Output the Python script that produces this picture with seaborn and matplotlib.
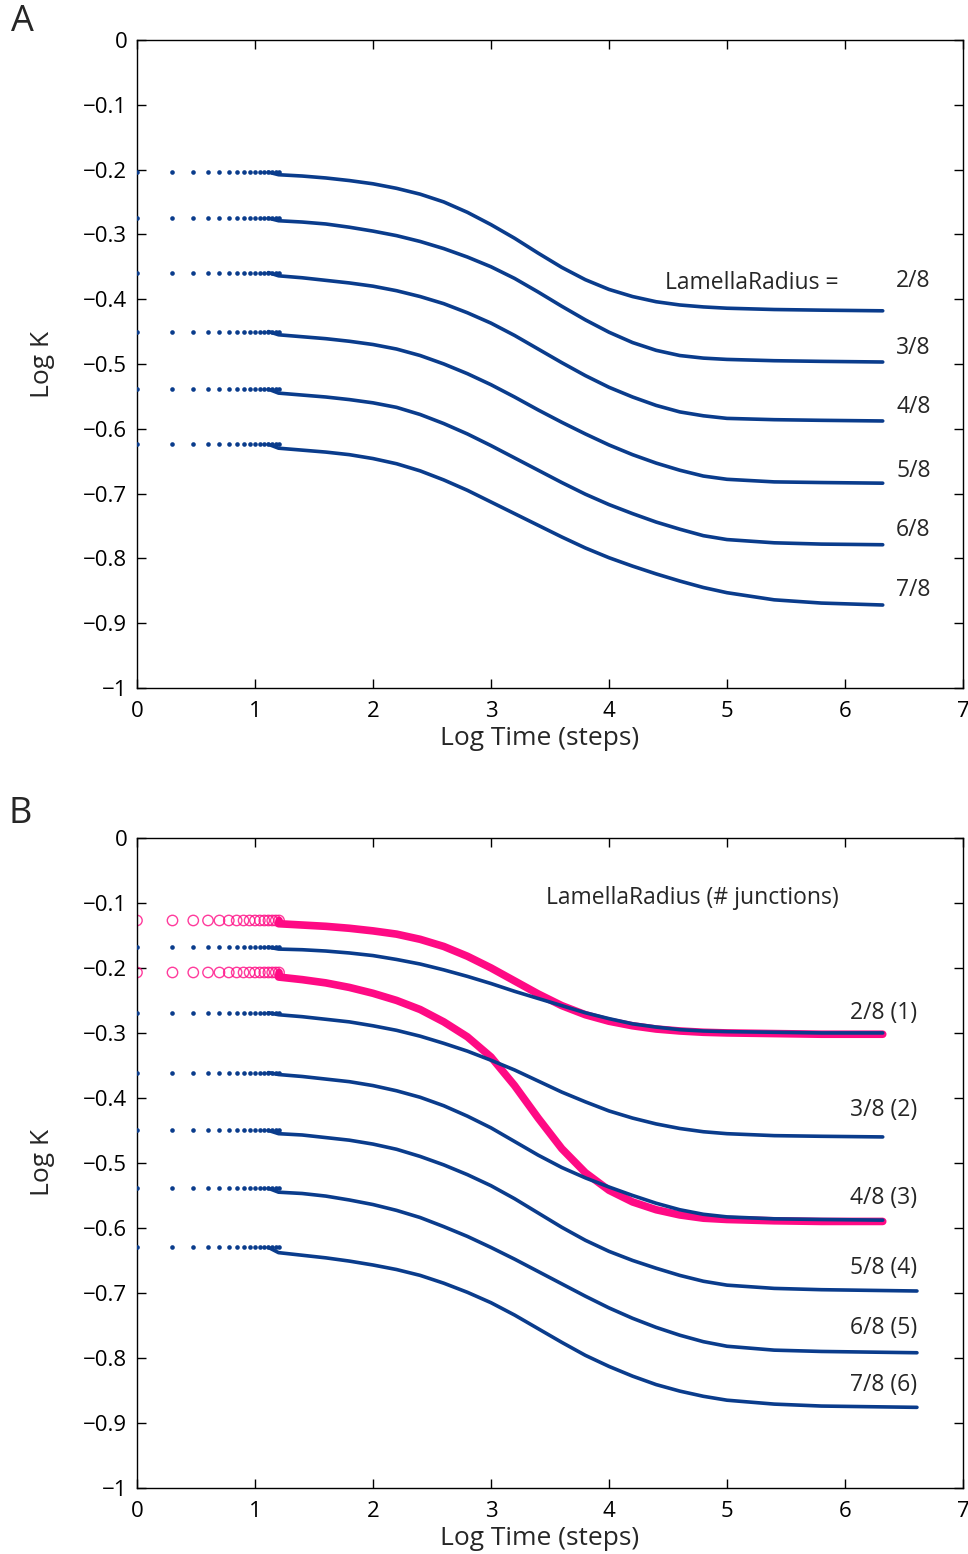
import numpy as np
import seaborn as sns
import matplotlib.pyplot as plt

# early time steps drawn as separate dots, then the dense part as a line
STEPS = [1, 2, 3, 4, 5, 6, 7, 8, 9, 10, 11, 12, 13, 14, 15, 16]
X_LINE = [1.2, 1.4, 1.6, 1.8, 2.0, 2.2, 2.4, 2.6, 2.8, 3.0, 3.2, 3.4, 3.6, 3.8,
          4.0, 4.2, 4.4, 4.6, 4.8, 5.0, 5.4, 5.8, 6.32]
X_LONG = [1.2, 1.4, 1.6, 1.8, 2.0, 2.2, 2.4, 2.6, 2.8, 3.0, 3.2, 3.4, 3.6, 3.8,
          4.0, 4.2, 4.4, 4.6, 4.8, 5.0, 5.4, 5.8, 6.2, 6.61]

# panel A
a_labels = ["2/8", "3/8", "4/8", "5/8", "6/8", "7/8"]
a_start = [-0.204, -0.275, -0.359, -0.450, -0.539, -0.624]
a_r2 = [-0.208, -0.210, -0.213, -0.217, -0.222, -0.229, -0.238, -0.250, -0.266, -0.285, -0.306, -0.329,
        -0.351, -0.370, -0.385, -0.396, -0.404, -0.409, -0.412, -0.414, -0.416, -0.417, -0.418]
a_r3 = [-0.279, -0.281, -0.284, -0.289, -0.295, -0.302, -0.311, -0.322, -0.335, -0.350, -0.368, -0.389,
        -0.411, -0.432, -0.451, -0.467, -0.479, -0.487, -0.491, -0.493, -0.495, -0.496, -0.497]
a_r4 = [-0.364, -0.367, -0.371, -0.375, -0.380, -0.387, -0.396, -0.407, -0.421, -0.437, -0.456, -0.477,
        -0.498, -0.518, -0.536, -0.551, -0.564, -0.574, -0.580, -0.584, -0.586, -0.587, -0.588]
a_r5 = [-0.455, -0.458, -0.461, -0.465, -0.470, -0.477, -0.487, -0.500, -0.515, -0.532, -0.551, -0.571,
        -0.590, -0.608, -0.625, -0.640, -0.653, -0.664, -0.673, -0.678, -0.682, -0.683, -0.684]
a_r6 = [-0.545, -0.548, -0.551, -0.555, -0.560, -0.567, -0.578, -0.592, -0.608, -0.626, -0.645, -0.664,
        -0.683, -0.701, -0.717, -0.731, -0.744, -0.755, -0.765, -0.771, -0.776, -0.778, -0.779]
a_r7 = [-0.630, -0.633, -0.636, -0.640, -0.646, -0.654, -0.665, -0.679, -0.695, -0.713, -0.731, -0.749,
        -0.767, -0.784, -0.799, -0.812, -0.824, -0.835, -0.845, -0.853, -0.864, -0.869, -0.872]
a_label_y = [-0.372, -0.475, -0.566, -0.665, -0.756, -0.849]

# panel B, blue curves
b_labels = ["2/8 (1)", "3/8 (2)", "4/8 (3)", "5/8 (4)", "6/8 (5)", "7/8 (6)"]
b_start = [-0.168, -0.269, -0.361, -0.450, -0.539, -0.630]
b_r2 = [-0.171, -0.172, -0.174, -0.177, -0.181, -0.187, -0.194, -0.203, -0.213, -0.224, -0.236, -0.247,
        -0.258, -0.269, -0.278, -0.286, -0.291, -0.295, -0.297, -0.298, -0.299, -0.300, -0.300]
b_r3 = [-0.272, -0.275, -0.279, -0.283, -0.289, -0.296, -0.305, -0.316, -0.328, -0.342, -0.357, -0.374,
        -0.391, -0.406, -0.420, -0.431, -0.440, -0.447, -0.452, -0.455, -0.458, -0.459, -0.460]
b_r4 = [-0.364, -0.367, -0.371, -0.375, -0.381, -0.389, -0.399, -0.412, -0.428, -0.446, -0.467, -0.488,
        -0.507, -0.523, -0.537, -0.550, -0.562, -0.572, -0.579, -0.583, -0.586, -0.587, -0.588]
b_r5 = [-0.455, -0.457, -0.461, -0.465, -0.471, -0.479, -0.490, -0.503, -0.518, -0.535, -0.555, -0.577,
        -0.599, -0.619, -0.636, -0.650, -0.662, -0.673, -0.682, -0.688, -0.693, -0.695, -0.696, -0.697]
b_r6 = [-0.545, -0.547, -0.551, -0.557, -0.564, -0.573, -0.584, -0.598, -0.613, -0.630, -0.648, -0.667,
        -0.686, -0.705, -0.723, -0.739, -0.753, -0.765, -0.775, -0.782, -0.788, -0.790, -0.791, -0.792]
b_r7 = [-0.638, -0.642, -0.646, -0.651, -0.657, -0.664, -0.673, -0.685, -0.699, -0.715, -0.734, -0.755,
        -0.776, -0.796, -0.813, -0.828, -0.841, -0.851, -0.859, -0.865, -0.871, -0.874, -0.875, -0.876]
b_label_y = [-0.270, -0.418, -0.554, -0.662, -0.754, -0.842]

# panel B, pink curves
p_start = [-0.127, -0.207]
p_1 = [-0.132, -0.134, -0.136, -0.139, -0.143, -0.148, -0.156, -0.167, -0.182, -0.200, -0.220, -0.240,
       -0.258, -0.272, -0.282, -0.289, -0.294, -0.297, -0.299, -0.300, -0.301, -0.302, -0.302]
p_2 = [-0.214, -0.218, -0.223, -0.230, -0.239, -0.250, -0.264, -0.283, -0.306, -0.337, -0.381, -0.431,
       -0.478, -0.515, -0.542, -0.560, -0.572, -0.580, -0.585, -0.587, -0.589, -0.590, -0.590]

BLUE = "#0a3c8c"
PINK = "#ff0a84"

sns.set_theme(style="ticks")
plt.rcParams['font.family'] = ['Open Sans', 'DejaVu Sans']
plt.rcParams['axes.linewidth'] = 1.0
plt.rcParams['axes.edgecolor'] = 'black'

fig = plt.figure(figsize=(9.68, 15.54), dpi=100)
axA = fig.add_axes([0.1415, 0.5573, 0.8533, 0.4170])
axB = fig.add_axes([0.1415, 0.0425, 0.8533, 0.4183])

x_dots = np.log10(STEPS)


def draw_blue(ax, start, xs, ys):
    sns.scatterplot(x=x_dots, y=[start] * len(STEPS), ax=ax, color=BLUE, s=11,
                    linewidth=0, zorder=3, legend=False)
    # join the last dots to the dense part
    sns.lineplot(x=[x_dots[-4]] + xs, y=[start] + ys, ax=ax, color=BLUE, lw=2.6, sort=False,
                 zorder=3, solid_capstyle='round', solid_joinstyle='round', legend=False)


def draw_pink(ax, start, xs, ys):
    ax.scatter(x_dots, [start] * len(STEPS), s=56, facecolors='none', edgecolors=PINK,
               linewidths=1.0, zorder=2, alpha=0.8)
    sns.lineplot(x=[x_dots[-1]] + xs, y=[start] + ys, ax=ax, color=PINK, lw=5.5, sort=False,
                 zorder=2, solid_capstyle='round', solid_joinstyle='round', legend=False)


for start, ys in zip(a_start, [a_r2, a_r3, a_r4, a_r5, a_r6, a_r7]):
    draw_blue(axA, start, X_LINE, ys)

for start, ys in zip(p_start, [p_1, p_2]):
    draw_pink(axB, start, X_LINE, ys)
for i, (start, ys) in enumerate(zip(b_start, [b_r2, b_r3, b_r4, b_r5, b_r6, b_r7])):
    draw_blue(axB, start, X_LINE if i < 3 else X_LONG, ys)

for lab, y in zip(a_labels, a_label_y):
    axA.text(6.58, y, lab, fontsize=16.5, ha='center', va='center')
axA.text(5.21, -0.375, "LamellaRadius =", fontsize=16.5, ha='center', va='center')

for lab, y in zip(b_labels, b_label_y):
    axB.text(6.33, y, lab, fontsize=16.5, ha='center', va='center')
axB.text(4.71, -0.092, "LamellaRadius (# junctions)", fontsize=16.5, ha='center', va='center')

yticks = [0, -0.1, -0.2, -0.3, -0.4, -0.5, -0.6, -0.7, -0.8, -0.9, -1]
ylabs = ["0", "\u22120.1", "\u22120.2", "\u22120.3", "\u22120.4", "\u22120.5", "\u22120.6",
         "\u22120.7", "\u22120.8", "\u22120.9", "\u22121"]
for ax in (axA, axB):
    ax.set_xlim(0, 7)
    ax.set_ylim(-1, 0)
    ax.set_xticks(range(8))
    ax.set_xticklabels([str(i) for i in range(8)])
    ax.set_yticks(yticks)
    ax.set_yticklabels(ylabs)
    ax.tick_params(direction='in', length=6.5, width=1.0, top=True, right=True,
                   labelsize=16, colors='black')
    ax.tick_params(axis='y', pad=7)
    ax.tick_params(axis='x', pad=9.5)
    for sp in ax.spines.values():
        sp.set_visible(True)
        sp.set_color('black')
    ax.set_xlabel("Log Time (steps)", fontsize=19)
    ax.xaxis.set_label_coords(0.488, -0.058)
    ax.set_ylabel("Log K", fontsize=19, labelpad=20)

fig.text(0.023, 0.986, "A", fontsize=26, ha='center', va='center')
fig.text(0.021, 0.476, "B", fontsize=26, ha='center', va='center')

fig.savefig("out.png", dpi=100)
